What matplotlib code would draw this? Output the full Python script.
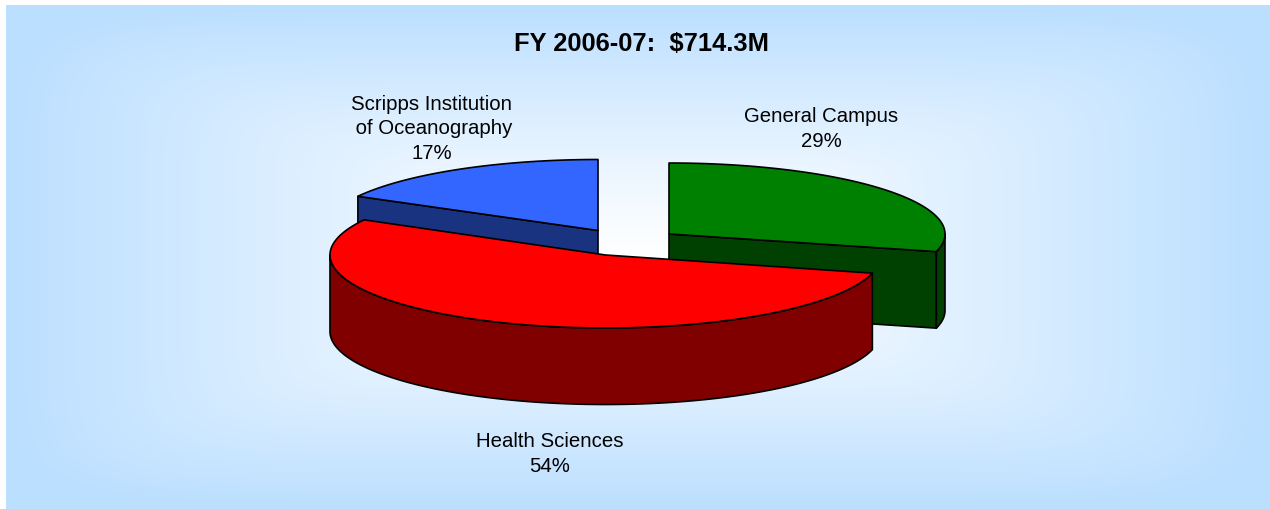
import numpy as np
import matplotlib
matplotlib.use("Agg")
import matplotlib.pyplot as plt
from matplotlib.colors import LinearSegmentedColormap
from matplotlib.patches import Polygon

plt.rcParams['font.family'] = ['Liberation Sans', 'DejaVu Sans']

title = "FY 2006-07:  $714.3M"
categories = ["General Campus", "Health Sciences", "Scripps Institution\n of Oceanography"]
shares = [29, 54, 17]
top_colors = ["#008000", "#FF0000", "#3366FF"]
side_colors = ["#004000", "#800000", "#1A3380"]
# layout in pixels: slice apex (x, y), radii
apexes = [(669, 235), (605.5, 256), (598, 231.5)]
radii = [(276, 71), (275.5, 73), (274, 71)]
depth = 76.5
label_pos = [(821, 147), (549.5, 472), (431.5, 159)]
draw_order = [0, 2, 1]

W, H = 1270, 510
fig = plt.figure(figsize=(W / 100, H / 100), dpi=100)
ax = fig.add_axes([0, 0, 1, 1])

# Background: white centre fading to light blue at the panel edges
px0, py0 = 6, 6
xx, yy = np.meshgrid(np.linspace(-1, 1, 632), np.linspace(-1, 1, 252))
t = (np.abs(xx) ** 8 + np.abs(yy) ** 8) ** 0.125
t = np.clip(t, 0, 1) ** 1.15
cmap = LinearSegmentedColormap.from_list("bg", ["#FFFFFF", "#BBDFFF"])
ax.imshow(t, cmap=cmap, vmin=0, vmax=1, extent=(px0, W, H, py0), aspect="auto",
          interpolation="bilinear", zorder=0)
ax.set_xlim(0, W)
ax.set_ylim(H, 0)
ax.axis("off")

edges = np.cumsum([0] + shares) / sum(shares) * 2 * np.pi


def rim(i, a, b, dy=0.0, n=200):
    th = np.linspace(a, b, n)
    cx, cy = apexes[i]
    rx, ry = radii[i]
    return np.column_stack([cx + rx * np.sin(th), cy - ry * np.cos(th) + dy])


line = dict(edgecolor="black", linewidth=1.2, joinstyle="round")
z = 2
for i in draw_order:
    a, b = edges[i], edges[i + 1]
    apex = np.array(apexes[i], dtype=float)
    down = np.array([0, depth])
    # cut walls that face the viewer
    for ang in (a, b):
        if (ang == a and np.pi < a < 2 * np.pi) or (ang == b and 0 < b < np.pi):
            tip = rim(i, ang, ang, n=1)[0]
            ax.add_patch(Polygon([apex, tip, tip + down, apex + down], closed=True,
                                 facecolor=side_colors[i], zorder=z, **line))
            z += 1
    # outer wall on the front half
    lo, hi = max(a, np.pi / 2), min(b, 3 * np.pi / 2)
    if lo < hi:
        ax.add_patch(Polygon(np.vstack([rim(i, lo, hi), rim(i, hi, lo, depth)]), closed=True,
                             facecolor=side_colors[i], zorder=z, **line))
        z += 1
    # top face
    ax.add_patch(Polygon(np.vstack([apex, rim(i, a, b)]), closed=True,
                         facecolor=top_colors[i], zorder=z, **line))
    z += 1

ax.text(641, 51, title, fontsize=18.4, fontweight="bold", ha="center", va="baseline", zorder=50)
for cat, val, (x, y) in zip(categories, shares, label_pos):
    ax.text(x, y, f"{cat}\n{val}%", fontsize=14.7, ha="center", va="baseline",
            linespacing=1.38, color="black", zorder=50)

fig.savefig("out.png", dpi=100, facecolor="white")
